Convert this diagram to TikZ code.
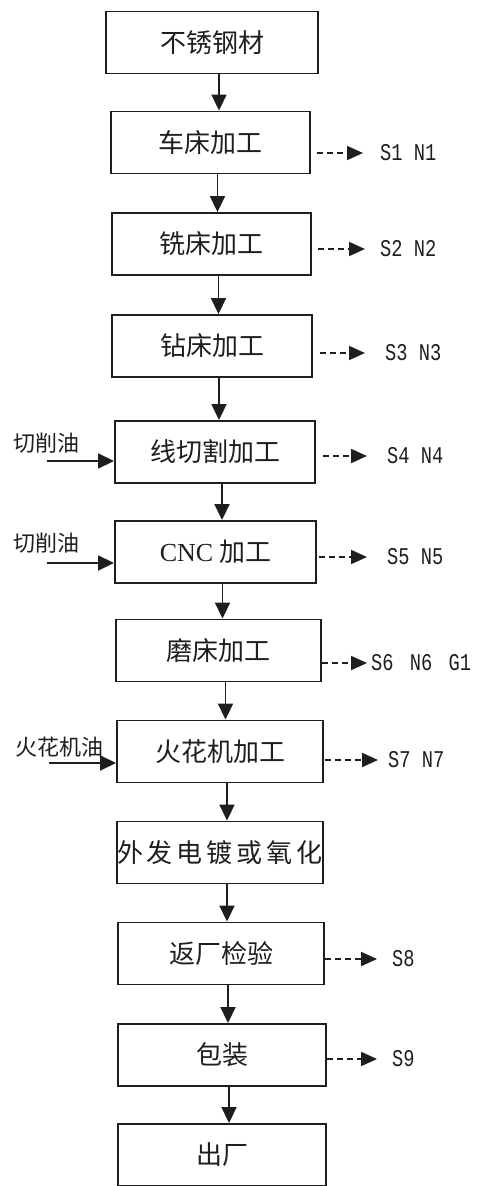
\documentclass[tikz,border=0pt]{standalone}
\usepackage{fontspec}
\setmainfont{Liberation Serif}
\newfontfamily\cjk{Noto Sans CJK SC}
\newfontfamily\codefont[FakeStretch=0.78]{Liberation Mono}
\usetikzlibrary{arrows.meta,calc}
\definecolor{ink}{RGB}{30,30,30}

\begin{document}
\begin{tikzpicture}[x=1pt,y=-1pt,
  stage/.style={draw=ink, line width=1.9pt, minimum height=62pt, inner sep=0pt,
    text=ink, font=\cjk\fontsize{26}{28}\selectfont},
  flow/.style={draw=ink, line width=1.8pt, -{Triangle[length=16pt,width=15pt]}},
  emit/.style={draw=ink, line width=1.8pt, dash pattern=on 6pt off 4pt,
    -{Triangle[length=16pt,width=14pt]}},
  tag/.style={anchor=west, inner sep=0pt, text=ink,
    font=\codefont\fontsize{24}{26}\selectfont},
  feed/.style={anchor=west, inner sep=0pt, text=ink,
    font=\cjk\fontsize{22}{24}\selectfont}]
\useasboundingbox (0,0) rectangle (482,1186);

% process stages
\node[stage, minimum width=212pt] (s1)  at (212,42.5)   {不锈钢材};
\node[stage, minimum width=199pt] (s2)  at (210.5,142.5) {车床加工};
\node[stage, minimum width=199pt] (s3)  at (211.5,244)  {铣床加工};
\node[stage, minimum width=200pt] (s4)  at (212,346)    {钻床加工};
\node[stage, minimum width=200pt] (s5)  at (215,452)    {线切割加工};
\node[stage, minimum width=201pt] (s6)  at (215.5,552)  {{\rmfamily CNC} 加工};
\node[stage, minimum width=205pt] (s7)  at (218.5,650.5) {磨床加工};
\node[stage, minimum width=206pt] (s8)  at (220,751.5)  {火花机加工};
\node[stage, minimum width=206pt] (s9)  at (220,852.5)
  {外\hskip4pt 发\hskip4pt 电\hskip4pt 镀\hskip4pt 或\hskip4pt 氧\hskip4pt 化};
\node[stage, minimum width=206pt] (s10) at (221,953.5)  {返厂检验};
\node[stage, minimum width=208pt] (s11) at (222,1055)   {包装};
\node[stage, minimum width=208pt] (s12) at (222,1155)   {出厂};

% main flow, running a little right of the box centres
\foreach \a/\b in {s1/s2,s2/s3,s3/s4,s4/s5,s5/s6,s6/s7,s7/s8,s8/s9,s9/s10,s10/s11,s11/s12}
  \draw[flow] ($(\a.south)+(7,0)$) -- ($(\a.south |- \b.north)+(7,0)$);

% emissions
\node[tag] (t2)  at (380,153) {S1 N1};
\node[tag] (t3)  at (380,249) {S2 N2};
\node[tag] (t4)  at (385,353) {S3 N3};
\node[tag] (t5)  at (387,456) {S4 N4};
\node[tag] (t6)  at (387,557) {S5 N5};
\node[tag] (t7)  at (371,663) {S6 \hskip5pt N6 \hskip5pt G1};
\node[tag] (t8)  at (388,760) {S7 N7};
\node[tag] (t10) at (392,959) {S8};
\node[tag] (t11) at (392,1059) {S9};
% stage / gap after the box / gap before the tag
\foreach \n/\s/\g in {2/6/17,3/6/15,4/7/20,5/7/20,6/2/20,7/0/4,8/1/10,10/0/15,11/0/15}
  \draw[emit] ($(s\n.east |- t\n.west)+(\s,0)$) -- ($(t\n.west)+(-\g,0)$);

% auxiliary inputs
\node[feed] (o5) at (13,443) {切削油};
\node[feed] (o6) at (13,543) {切削油};
\node[feed] (o8) at (15,747) {火花机油};
\coordinate (i5) at (47,461);
\coordinate (i6) at (47,563);
\coordinate (i8) at (49,763);
\draw[flow] (i5) -- (i5 -| s5.west);
\draw[flow] (i6) -- (i6 -| s6.west);
\draw[flow] (i8) -- (i8 -| s8.west);
\end{tikzpicture}
\end{document}
